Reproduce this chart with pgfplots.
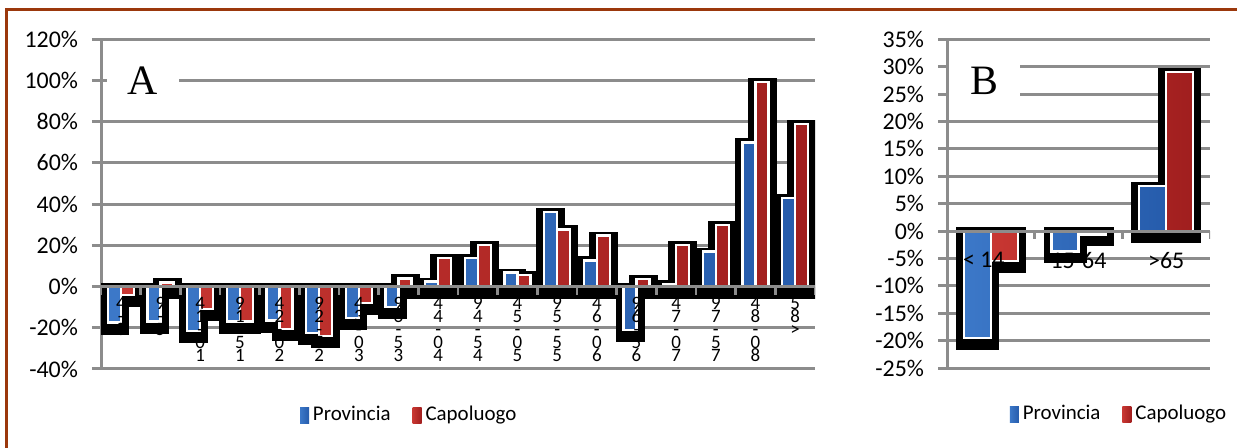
\documentclass[border=0pt]{standalone}
\usepackage{fontspec}
\setmainfont{Carlito}
\newfontfamily\serifA{Liberation Serif}
\usepackage{pgfplots}
\usepackage{pgfplotstable}
\pgfplotsset{compat=1.18}
\definecolor{gridgray}{RGB}{140,140,140}
\definecolor{brd}{RGB}{155,56,12}
\definecolor{blueL}{RGB}{60,120,200}
\definecolor{blueM}{RGB}{90,155,228}
\definecolor{blueR}{RGB}{38,92,172}
\definecolor{redL}{RGB}{200,55,50}
\definecolor{redM}{RGB}{228,82,76}
\definecolor{redR}{RGB}{160,30,30}
\newcommand\vlabfont{\fontsize{9.5}{6.6}\selectfont\lineskiplimit=-20bp\lineskip=0bp}
\newcommand\xl[2]{\node[anchor=north, inner sep=0pt, align=center, font=\vlabfont, yshift=-5bp] at (axis cs:#1,0) {#2};}
\newcommand\xb[2]{\node[anchor=north, inner sep=0pt, font=\fontsize{12}{14}\selectfont, yshift=-10.5bp] at (axis cs:#1,0) {#2};}

\pgfplotstableread{
x prov cap
0 -17.5 -4
1 -17 2
2 -21.5 -11
3 -17 -17
4 -16.5 -20.5
5 -22.5 -24
6 -15.2 -8
7 -10 4
8 2.4 13.8
9 13.8 20.3
10 6.8 5.7
11 36.3 27.7
12 12.7 24.7
13 -21 3.6
14 1.3 20.3
15 17 30
16 70 99.2
17 43 78.9
}\tabA

\pgfplotstableread{
x prov cap
0 -19.5 -5.5
1 -3.7 -0.6
2 8.2 29
}\tabB

\pgfplotsset{
  base/.style={
    scale only axis,
    axis y line=left,
    axis x line=middle,
    x axis line style={-, gridgray, line width=1.5bp},
    y axis line style={-, gridgray, line width=1.5bp},
    ymajorgrids,
    grid style={gridgray, line width=1.5bp},
    ytick style={gridgray, line width=1.5bp},
    xtick=\empty,
    major tick length=4.5bp,
    tick align=outside,
    /pgf/number format/assume math mode=true,
    yticklabel={\pgfmathprintnumber{\tick}\%},
    yticklabel style={font=\fontsize{12}{14}\selectfont, xshift=-3.5bp},
    legend style={draw=none, fill=none, legend columns=2,
      font=\fontsize{10.5}{12}\selectfont,
      /tikz/every even column/.append style={column sep=9bp}},
    legend image code/.code={\draw[#1, draw=none] (0bp,-4bp) rectangle (4.5bp,4bp);},
  },
  shadow/.style={ybar, fill=black, draw=black, line width=8bp, yshift=-2bp, forget plot},
  provst/.style={ybar, left color=blueL, middle color=blueM, right color=blueR, draw=white, line width=1.2bp},
  capst/.style={ybar, left color=redL, middle color=redM, right color=redR, draw=white, line width=1.2bp},
}

\begin{document}
\begin{tikzpicture}
\useasboundingbox (0,0) rectangle (618.5bp,224bp);
\fill[white] (0,0) rectangle (618.5bp,224bp);
\draw[brd, line width=1.5bp] (3bp,-10bp) -- (3bp,219bp) -- (640bp,219bp);

% ---------------- Panel A ----------------
\begin{axis}[base,
  at={(50.5bp,39.5bp)}, anchor=south west,
  width=357bp, height=164.85bp,
  xmin=-0.5, xmax=17.5, ymin=-40, ymax=120,
  ytick={-40,-20,...,120},
  legend style={at={(0.433,-0.14)}, anchor=center},
]
\addplot[shadow, bar width=6.5bp, bar shift=-3.25bp] table[x=x,y=prov]{\tabA};
\addplot[shadow, bar width=6.5bp, bar shift=3.25bp] table[x=x,y=cap]{\tabA};
\addplot[provst, bar width=6.5bp, bar shift=-3.25bp] table[x=x,y=prov]{\tabA};
\addplot[capst, bar width=6.5bp, bar shift=3.25bp] table[x=x,y=cap]{\tabA};
\legend{Provincia,Capoluogo}
\draw[gridgray, line width=1.5bp] (axis cs:-0.5,0) -- (axis cs:17.5,0);
\pgfplotsinvokeforeach{-0.5,0.5,...,17.5}{\draw[gridgray, line width=1.2bp] (axis cs:#1,0) -- ([yshift=-4bp]axis cs:#1,0);}
\xl{0}{4\\-\\0}
\xl{1}{9\\-\\5}
\xl{2}{4\\1\\-\\0\\1}
\xl{3}{9\\1\\-\\5\\1}
\xl{4}{4\\2\\-\\0\\2}
\xl{5}{9\\2\\-\\5\\2}
\xl{6}{4\\3\\-\\0\\3}
\xl{7}{9\\3\\-\\5\\3}
\xl{8}{4\\4\\-\\0\\4}
\xl{9}{9\\4\\-\\5\\4}
\xl{10}{4\\5\\-\\0\\5}
\xl{11}{9\\5\\-\\5\\5}
\xl{12}{4\\6\\-\\0\\6}
\xl{13}{9\\6\\-\\5\\6}
\xl{14}{4\\7\\-\\0\\7}
\xl{15}{9\\7\\-\\5\\7}
\xl{16}{4\\8\\-\\0\\8}
\xl{17}{5\\8\\>}
\node[fill=white, inner sep=0pt, minimum width=36bp, minimum height=24bp,
  font=\serifA\fontsize{21}{21}\selectfont] at (axis cs:0.56,100) {A};
\end{axis}

% ---------------- Panel B ----------------
\begin{axis}[base,
  at={(473.5bp,40bp)}, anchor=south west,
  width=131.5bp, height=164.35bp,
  xmin=-0.5, xmax=2.5, ymin=-25, ymax=35,
  ytick={-25,-20,...,35},
  legend style={at={(0.658,-0.14)}, anchor=center},
]
\addplot[shadow, bar width=13.5bp, bar shift=-6.75bp] table[x=x,y=prov]{\tabB};
\addplot[shadow, bar width=13.5bp, bar shift=6.75bp] table[x=x,y=cap]{\tabB};
\addplot[provst, bar width=13.5bp, bar shift=-6.75bp] table[x=x,y=prov]{\tabB};
\addplot[capst, bar width=13.5bp, bar shift=6.75bp] table[x=x,y=cap]{\tabB};
\legend{Provincia,Capoluogo}
\draw[gridgray, line width=1.5bp] (axis cs:-0.5,0) -- (axis cs:2.5,0);
\pgfplotsinvokeforeach{-0.5,0.5,1.5,2.5}{\draw[gridgray, line width=1.2bp] (axis cs:#1,0) -- ([yshift=-4bp]axis cs:#1,0);}
\xb{-0.08}{< 14}
\xb{1}{15-64}
\xb{2}{>65}
\node[fill=white, inner sep=0pt, minimum width=35.5bp, minimum height=25bp,
  font=\serifA\fontsize{21}{21}\selectfont] at (axis cs:-0.072,27.5) {B};
\end{axis}
\end{tikzpicture}
\end{document}
